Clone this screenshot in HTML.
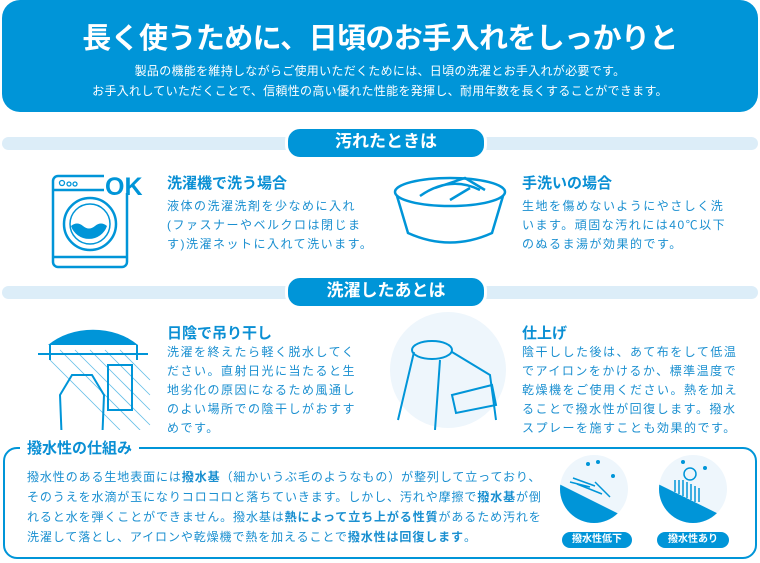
<!DOCTYPE html>
<html><head><meta charset="utf-8"><style>
*{margin:0;padding:0;box-sizing:border-box}
body{width:760px;height:563px;background:#fff;position:relative;overflow:hidden;font-family:"Liberation Sans","Noto Sans CJK JP",sans-serif;color:#1a8fd0}
.abs{position:absolute;white-space:nowrap}
.hdr{left:2px;top:0;width:756px;height:112px;background:#0095d8;border-radius:18px}
.title{left:0;width:760px;text-align:center;top:15px;font-size:29px;font-weight:bold;color:#fff;letter-spacing:-0.6px}
.sub{left:0;width:760px;text-align:center;font-size:12px;color:#fff;letter-spacing:0.3px}
.bar{left:2px;width:756px;height:13px;background:#dcedf8;border-radius:7px}
.pill{background:#0095d8;color:#fff;font-weight:bold;font-size:17px;text-align:center;border-radius:15px;border:3px solid #fff;line-height:26px}
.h{font-size:15px;font-weight:bold;color:#0a8fd4}
.p{font-size:12px;line-height:19px;letter-spacing:1.5px;color:#1a8fd0;white-space:nowrap}
.box{left:3px;top:447px;width:754px;height:112px;border:2.5px solid #0095d8;border-radius:14px}
.bp{font-size:12px;line-height:20px;letter-spacing:0.9px;color:#1a8fd0}
.tag{background:#0095d8;color:#fff;font-size:10px;font-weight:bold;text-align:center;border-radius:8px;line-height:16px;height:16px}
</style></head><body>
<div class="abs hdr"></div>
<div class="abs title">長く使うために、日頃のお手入れをしっかりと</div>
<div class="abs sub" style="top:62px">製品の機能を維持しながらご使用いただくためには、日頃の洗濯とお手入れが必要です。</div>
<div class="abs sub" style="top:82px">お手入れしていただくことで、信頼性の高い優れた性能を発揮し、耐用年数を長くすることができます。</div>

<div class="abs bar" style="top:137px"></div>
<div class="abs pill" style="left:285px;top:126px;width:202px;height:34px">汚れたときは</div>
<div class="abs bar" style="top:286px"></div>
<div class="abs pill" style="left:285px;top:275px;width:202px;height:34px">洗濯したあとは</div>

<svg class="abs" style="left:0;top:160px" width="760" height="270" viewBox="0 0 760 270">
<g fill="none" stroke="#0095d8" stroke-width="2.5">
<path d="M104 16 H58 a5 5 0 0 0 -5 5 V102 a5 5 0 0 0 5 5 H122 a5 5 0 0 0 5 -5 V33"/>
<line x1="53" y1="30" x2="104" y2="30"/><line x1="53" y1="97" x2="127" y2="97"/>
<circle cx="90" cy="64" r="26"/><circle cx="90" cy="64" r="20" stroke-width="1.5"/>
<circle cx="62" cy="23" r="2.5" stroke-width="1.3"/><circle cx="69" cy="24" r="2" stroke-width="1.3"/><circle cx="75" cy="24" r="2" stroke-width="1.3"/>
<ellipse cx="450" cy="32" rx="55" ry="14"/>
<path d="M397 36 L408 73 Q450 92 492 73 L503 36"/>
<path d="M420 36 Q450 15 480 30 M435 28 l30 -10 l20 12 M450 40 l20 -12"/>
</g>
<path d="M71 66 q6 -5 12 0 q6 5 12 0 q6 -5 12 0 a19 19 0 0 1 -36 0z" fill="#0095d8"/>
<text x="105" y="35" font-size="25" font-weight="bold" fill="#0095d8" font-family="Liberation Sans">OK</text>
<path d="M48 185 A60 45 0 0 1 138 185 Z" fill="#0095d8"/>
<g stroke="#0095d8" fill="none" stroke-width="2">
<line x1="38" y1="194" x2="148" y2="194"/>
<path d="M50 185 V200 M137 185 V200"/>
<path d="M60 235 l12 -20 h20 l12 20 l-2 50 h-40z" fill="#fff"/>
<rect x="108" y="205" width="24" height="45" fill="#fff"/>
</g>
<g stroke="#0095d8" stroke-width="0.8" opacity="0.6">
<path d="M60 190 l90 90 M75 190 l75 75 M90 190 l60 60 M105 190 l45 45 M120 190 l30 30 M50 200 l70 70"/>
</g>
<circle cx="448" cy="210" r="58" fill="#eef6fc"/>
<g stroke="#0095d8" fill="none" stroke-width="2">
<ellipse cx="432" cy="190" rx="20" ry="9"/>
<path d="M414 192 L398 260 M452 192 L490 215 L496 260 M440 200 L435 270"/>
<path d="M452 235 l40 -10 l4 20 l-40 8z"/>
</g>
</svg>

<div class="abs h" style="left:167px;top:172px">洗濯機で洗う場合</div>
<div class="abs p" style="left:167px;top:197px">液体の洗濯洗剤を少なめに入れ<br>(ファスナーやベルクロは閉じま<br>す)洗濯ネットに入れて洗います。</div>
<div class="abs h" style="left:522px;top:172px">手洗いの場合</div>
<div class="abs p" style="left:522px;top:197px">生地を傷めないようにやさしく洗<br>います。頑固な汚れには40℃以下<br>のぬるま湯が効果的です。</div>
<div class="abs h" style="left:167px;top:322px">日陰で吊り干し</div>
<div class="abs p" style="left:167px;top:343px">洗濯を終えたら軽く脱水してく<br>ださい。直射日光に当たると生<br>地劣化の原因になるため風通し<br>のよい場所での陰干しがおすす<br>めです。</div>
<div class="abs h" style="left:522px;top:322px">仕上げ</div>
<div class="abs p" style="left:522px;top:343px">陰干しした後は、あて布をして低温<br>でアイロンをかけるか、標準温度で<br>乾燥機をご使用ください。熱を加え<br>ることで撥水性が回復します。撥水<br>スプレーを施すことも効果的です。</div>

<div class="abs box"></div>
<div class="abs h" style="left:20px;top:437px;background:#fff;padding:0 7px;font-size:15px">撥水性の仕組み</div>
<div class="abs bp" style="left:27px;top:467px">撥水性のある生地表面には<b>撥水基</b>（細かいうぶ毛のようなもの）が整列して立っており、<br>そのうえを水滴が玉になりコロコロと落ちていきます。しかし、汚れや摩擦で<b>撥水基</b>が倒<br>れると水を弾くことができません。撥水基は<b>熱によって立ち上がる性質</b>があるため汚れを<br>洗濯して落とし、アイロンや乾燥機で熱を加えることで<b>撥水性は回復します</b>。</div>
<svg class="abs" style="left:555px;top:452px" width="190" height="100">
<defs><clipPath id="c1"><circle cx="39" cy="37" r="34"/></clipPath><clipPath id="c2"><circle cx="138" cy="37" r="34"/></clipPath></defs>
<circle cx="39" cy="37" r="34" fill="#eef6fc"/><circle cx="138" cy="37" r="34" fill="#eef6fc"/>
<polygon points="0,30 80,70 80,80 0,80" fill="#0095d8" clip-path="url(#c1)"/>
<polygon points="99,30 180,70 180,80 99,80" fill="#0095d8" clip-path="url(#c2)"/>
<g stroke="#0095d8" stroke-width="1.5" fill="none"><path d="M15 30 l20 5 M18 26 l22 8 M22 32 l25 10 M40 30 l15 15"/>
<path d="M120 28 v12 M124 28 v14 M128 28 v16 M132 30 v16 M136 32 v16 M140 34 v16 M144 36 v14"/><circle cx="135" cy="22" r="6"/></g>
<g fill="#0095d8"><circle cx="33" cy="12" r="2"/><circle cx="43" cy="10" r="2"/><circle cx="58" cy="24" r="2"/><circle cx="128" cy="10" r="2"/><circle cx="150" cy="16" r="2"/></g>
</svg>
<div class="abs tag" style="left:562px;top:532px;width:70px">撥水性低下</div>
<div class="abs tag" style="left:657px;top:532px;width:72px">撥水性あり</div>
</body></html>
